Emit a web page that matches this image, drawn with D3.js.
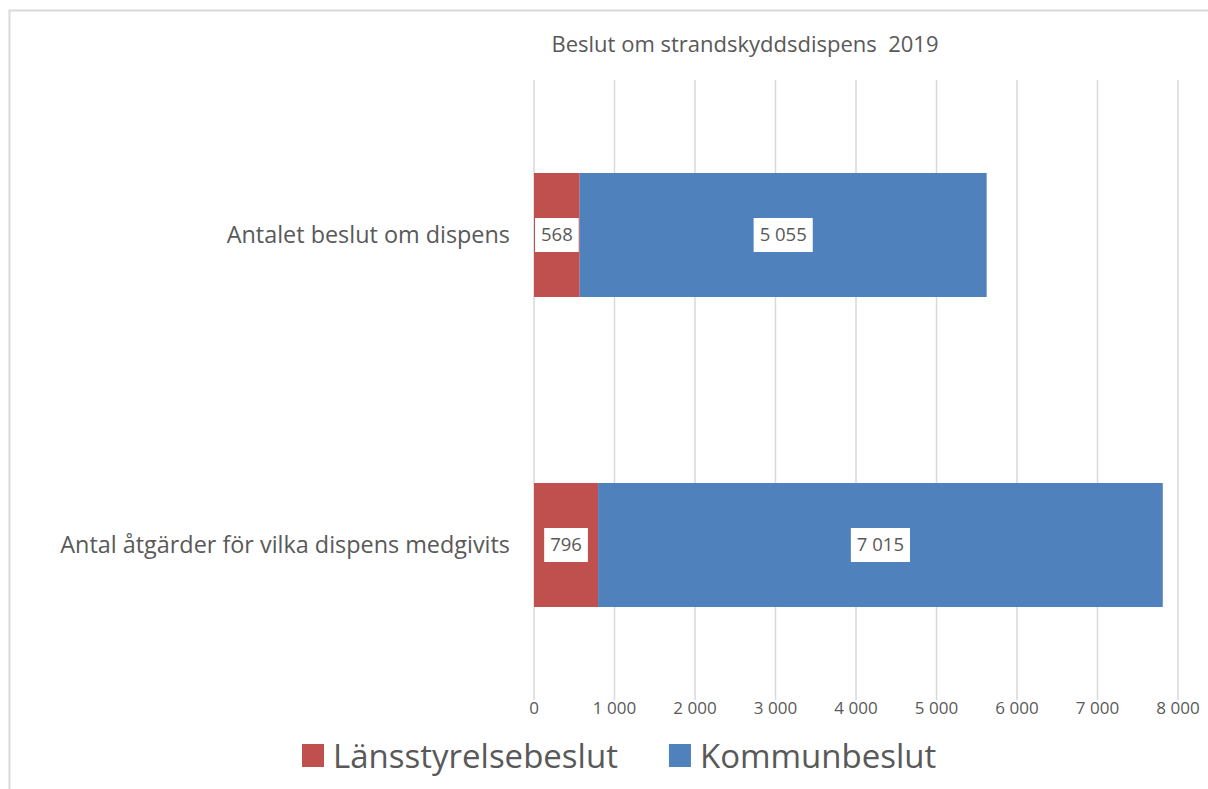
<!DOCTYPE html>
<html>
<head>
<meta charset="utf-8">
<script src="https://cdn.jsdelivr.net/npm/d3@7"></script>
<style>
  body { margin: 0; background: #fff; }
  text { font-family: "Open Sans", "Noto Sans", sans-serif; fill: #595959; }
</style>
</head>
<body>
<svg id="chart" width="1208" height="789"></svg>
<script>
// Dữ liệu
const categories = ["Antalet beslut om dispens", "Antal åtgärder för vilka dispens medgivits"];
const seriesNames = ["Länsstyrelsebeslut", "Kommunbeslut"];
const lansstyrelse = [568, 796];
const kommun = [5055, 7015];
const xTicks = [0, 1000, 2000, 3000, 4000, 5000, 6000, 7000, 8000];
const title = "Beslut om strandskyddsdispens  2019";

const colors = ["#C0504D", "#4F81BD"];

const svg = d3.select("#chart"),
      margin = {top: 80, right: 30, bottom: 89, left: 534},
      width = 1178 - margin.left,
      height = 700 - margin.top;

// khung ngoài
svg.append("path")
  .attr("d", "M9.5,789 V10.5 H1208")
  .attr("fill", "none")
  .attr("stroke", "#d9d9d9")
  .attr("stroke-width", 2);

const g = svg.append("g").attr("transform", `translate(${margin.left},${margin.top})`);

const x = d3.scaleLinear().domain([0, 8000]).range([0, width]);
const y = d3.scaleBand().domain(categories).range([0, height]).paddingInner(0.6).paddingOuter(0.3);

const fmt = v => d3.format(",")(v).replace(/,/g, " ");

// Lưới dọc
g.selectAll(".grid")
  .data(xTicks)
  .enter().append("line")
    .attr("x1", d => x(d)).attr("x2", d => x(d))
    .attr("y1", 0).attr("y2", height)
    .attr("stroke", "#d9d9d9").attr("stroke-width", 1.5);

// Nhãn trục X
g.selectAll(".xlab")
  .data(xTicks)
  .enter().append("text")
    .attr("x", d => x(d))
    .attr("y", height + 12)
    .attr("dy", "0.1em")
    .attr("text-anchor", "middle")
    .style("font-size", "17px")
    .text(d => fmt(d));

// Nhãn danh mục
g.selectAll(".ylab")
  .data(categories)
  .enter().append("text")
    .attr("x", -24)
    .attr("y", d => y(d) + y.bandwidth() / 2)
    .attr("dy", "0.35em")
    .attr("text-anchor", "end")
    .style("font-size", "23.4px")
    .text(d => d);

// Thanh xếp chồng
const stacked = categories.map((c, i) => ({
  cat: c,
  segs: [
    {s: 0, x0: 0, x1: lansstyrelse[i], v: lansstyrelse[i]},
    {s: 1, x0: lansstyrelse[i], x1: lansstyrelse[i] + kommun[i], v: kommun[i]}
  ]
}));

stacked.forEach(row => {
  row.segs.forEach(sg => {
    g.append("rect")
      .attr("x", x(sg.x0))
      .attr("y", y(row.cat))
      .attr("width", x(sg.x1) - x(sg.x0))
      .attr("height", y.bandwidth())
      .attr("fill", colors[sg.s]);
  });
  row.segs.forEach(sg => {
    const cx = (x(sg.x0) + x(sg.x1)) / 2,
          cy = y(row.cat) + y.bandwidth() / 2;
    const lbl = g.append("g");
    const t = lbl.append("text")
      .attr("x", cx).attr("y", cy).attr("dy", "0.35em")
      .attr("text-anchor", "middle")
      .style("font-size", "18.5px")
      .text(fmt(sg.v));
    const bb = t.node().getBBox();
    lbl.insert("rect", "text")
      .attr("x", bb.x - 6).attr("y", cy - 17)
      .attr("width", bb.width + 12).attr("height", 34)
      .attr("fill", "#fff");
  });
});

// Tiêu đề
svg.append("text")
  .attr("x", 745).attr("y", 52)
  .attr("text-anchor", "middle")
  .style("font-size", "22px")
  .style("white-space", "pre")
  .text(title);

// Chú giải
const legend = svg.append("g").attr("transform", "translate(302,744)");
let lx = 0;
seriesNames.forEach((name, i) => {
  legend.append("rect")
    .attr("x", lx).attr("y", 0)
    .attr("width", 22).attr("height", 23)
    .attr("fill", colors[i]);
  const t = legend.append("text")
    .attr("x", lx + 31).attr("y", 12).attr("dy", "0.35em")
    .style("font-size", "33px")
    .text(name);
  lx += 31 + t.node().getComputedTextLength() + 51;
});
</script>
</body>
</html>
